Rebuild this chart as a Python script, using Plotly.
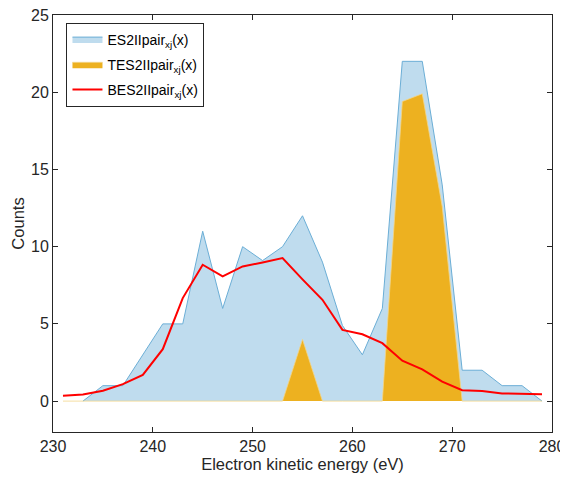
import plotly.graph_objects as go

energy_es = [233, 235, 237, 239, 241, 243, 245, 247, 249, 251, 253, 255, 257, 259, 261, 263,
             265, 267, 269, 271, 273, 275, 277, 279]
es_counts = [0, 1, 1, 3, 5, 5, 11, 6, 10, 9.1, 10, 12, 9, 4.9, 3, 6,
             22, 22, 14, 2, 2, 1, 1, 0]

energy = [231, 233, 235, 237, 239, 241, 243, 245, 247, 249, 251, 253, 255, 257, 259, 261,
          263, 265, 267, 269, 271, 273, 275, 277, 279]
tes_counts = [0, 0, 0, 0, 0, 0, 0, 0, 0, 0, 0, 0, 4, 0, 0, 0,
              0, 19.4, 19.9, 12.6, 0, 0, 0, 0, 0]
bes_counts = [0.35, 0.43, 0.67, 1.1, 1.7, 3.36, 6.67, 8.83, 8.07, 8.72, 8.98, 9.26, 7.88, 6.56,
              4.61, 4.33, 3.75, 2.62, 2.06, 1.26, 0.71, 0.65, 0.5, 0.48, 0.44]

x_ticks = [230, 240, 250, 260, 270, 280]
y_ticks = [0, 5, 10, 15, 20, 25]

FONT = "Liberation Sans, Arial, sans-serif"

fig = go.Figure()
fig.add_trace(go.Scatter(
    x=energy_es, y=es_counts, mode="lines", fill="tozeroy",
    fillcolor="#BFDCEE", line=dict(color="#6BAED6", width=1),
    name="ES2IIpair<sub>xj</sub>(x)", legendgroup="a"))
fig.add_trace(go.Scatter(
    x=energy, y=tes_counts, mode="lines", fill="tozeroy",
    fillcolor="#EDB120", line=dict(color="#F3D58A", width=0.8),
    name="TES2IIpair<sub>xj</sub>(x)", legendgroup="b"))
fig.add_trace(go.Scatter(
    x=energy, y=bes_counts, mode="lines",
    line=dict(color="#FF0000", width=2),
    name="BES2IIpair<sub>xj</sub>(x)", legendgroup="c"))

axis_common = dict(
    showline=True, linecolor="#262626", linewidth=1, mirror="ticks",
    ticks="inside", ticklen=5, tickcolor="#262626",
    showgrid=False, zeroline=False, automargin=False,
    ticklabeloverflow="allow",
    tickfont=dict(family=FONT, size=16, color="#262626"),
)

# the page body adds an 8px offset; keep the figure inside the window
fig.update_layout(
    width=560, height=467,
    margin=dict(l=45, r=16, t=7, b=43),
    paper_bgcolor="white", plot_bgcolor="white",
    font=dict(family=FONT, size=14, color="#262626"),
    xaxis=dict(range=[230, 280], tickvals=x_ticks,
               title=dict(text="Electron kinetic energy (eV)", font=dict(size=16.5), standoff=2),
               **axis_common),
    yaxis=dict(range=[-2, 25], tickvals=y_ticks,
               title=dict(text="Counts", font=dict(size=16.5), standoff=2),
               **axis_common),
    legend=dict(x=0.027, y=0.982, xanchor="left", yanchor="top",
                bgcolor="white", bordercolor="#262626", borderwidth=1,
                font=dict(family=FONT, size=14, color="#000000"),
                tracegroupgap=4, itemwidth=30),
    showlegend=True,
)

fig.write_html("out.html")
